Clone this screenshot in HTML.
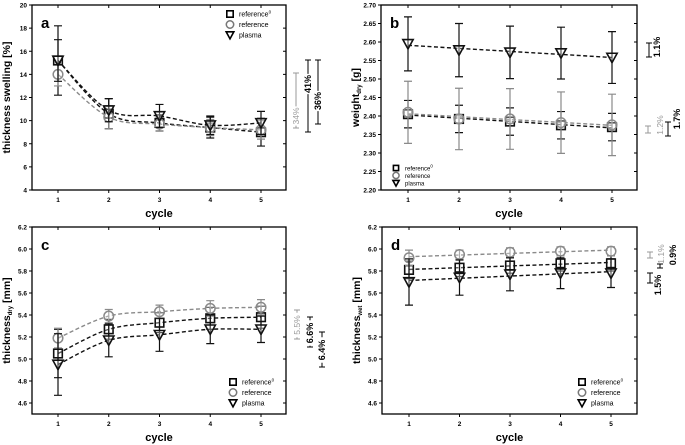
<!DOCTYPE html>
<html><head><meta charset="utf-8"><style>
html,body{margin:0;padding:0;background:#fff;}
svg{display:block;font-family:"Liberation Sans",Arial,sans-serif;}
text{font-weight:bold;}
</style></head><body>
<svg id="chart" width="685" height="445" viewBox="0 0 685 445"></svg>
<script>
const cycles = [1,2,3,4,5];
// panel a
const aRef0 = [15.2,10.6,9.8,9.4,9.0];
const aRef0Err = [3.0,1.3,0.7,0.9,1.2];
const aRef = [14.0,10.3,9.7,9.4,9.2];
const aRefErr = [1.0,1.0,0.6,0.7,0.8];
const aPla = [15.2,10.9,10.4,9.6,9.8];
const aPlaErr = [1.8,1.0,1.0,0.8,1.0];
const aTicks = [4,6,8,10,12,14,16,18,20];
// panel b
const bRef0 = [2.405,2.392,2.385,2.375,2.370];
const bRef0Err = [0.037,0.037,0.037,0.037,0.037];
const bRef = [2.410,2.392,2.392,2.382,2.376];
const bRefErr = [0.084,0.083,0.082,0.083,0.083];
const bPla = [2.595,2.578,2.572,2.570,2.558];
const bPlaErr = [0.073,0.072,0.071,0.07,0.07];
const bTicks = [2.20,2.25,2.30,2.35,2.40,2.45,2.50,2.55,2.60,2.65,2.70];
// panel c
const cRef0 = [5.05,5.27,5.33,5.37,5.38];
const cRef0Err = [0.22,0.09,0.09,0.1,0.1];
const cRef = [5.19,5.39,5.43,5.46,5.47];
const cRefErr = [0.09,0.06,0.06,0.07,0.07];
const cPla = [4.95,5.17,5.22,5.27,5.27];
const cPlaErr = [0.28,0.15,0.15,0.13,0.12];
const cdTicks = [4.6,4.8,5.0,5.2,5.4,5.6,5.8,6.0,6.2];
// panel d
const dRef0 = [5.81,5.83,5.85,5.87,5.87];
const dRef0Err = [0.08,0.08,0.07,0.07,0.07];
const dRef = [5.92,5.95,5.97,5.98,5.98];
const dRefErr = [0.07,0.04,0.04,0.04,0.04];
const dPla = [5.70,5.74,5.77,5.78,5.78];
const dPlaErr = [0.21,0.16,0.15,0.14,0.13];

const NS="http://www.w3.org/2000/svg";
const svg=document.getElementById('chart');
function el(tag,attrs,parent,txt){const e=document.createElementNS(NS,tag);for(const k in attrs)e.setAttribute(k,attrs[k]);if(txt!==undefined)e.textContent=txt;(parent||svg).appendChild(e);return e;}

function marker(p,shape,x,y,color,r){
  r=r||4.3;
  if(shape==='square')return el('rect',{x:x-r,y:y-r,width:2*r,height:2*r,fill:'#fff','fill-opacity':0.3,stroke:color,'stroke-width':1.6},p);
  if(shape==='circle')return el('circle',{cx:x,cy:y,r:r+0.5,fill:'#fff','fill-opacity':0.3,stroke:color,'stroke-width':1.5},p);
  return el('path',{d:`M${x-r*1.2},${y-r}L${x+r*1.2},${y-r}L${x},${y+r*1.2}Z`,fill:'#fff','fill-opacity':0.3,stroke:color,'stroke-width':1.6},p);
}

function panel(cfg){
  const g=el('g',{});
  
  
  const X=v=>cfg.x1+(v-1)*(cfg.x5-cfg.x1)/4;
  const Y=v=>cfg.yb+(v-cfg.ymin)*(cfg.yt-cfg.yb)/(cfg.ymax-cfg.ymin);
  const frame=el('rect',{x:cfg.L,y:cfg.T,width:cfg.R-cfg.L,height:cfg.B-cfg.T,fill:'none',stroke:'#000','stroke-width':1.3},g);
  
  
  cfg.ticks.forEach(t=>{
    const y=Y(t);
    el('line',{x1:cfg.L,x2:cfg.L-3,y1:y,y2:y,stroke:'#000'},g);
    el('line',{x1:cfg.R,x2:cfg.R-3,y1:y,y2:y,stroke:'#000'},g);
    const tl=el('text',{x:cfg.L-5,y:y+2.5,'font-size':6.5,'text-anchor':'end'},g,t.toFixed(cfg.dec));
    
    
  });
  cycles.forEach(c=>{
    const x=X(c);
    el('line',{x1:x,x2:x,y1:cfg.B,y2:cfg.B+3,stroke:'#000'},g);
    el('line',{x1:x,x2:x,y1:cfg.T,y2:cfg.T+3,stroke:'#000'},g);
    const tl=el('text',{x:x,y:cfg.B+12,'font-size':6.5,'text-anchor':'middle'},g,c);
    
    
  });
  const xt=el('text',{x:(cfg.L+cfg.R)/2,y:cfg.B+27,'font-size':11,'text-anchor':'middle'},g,'cycle');
  
  
  const yt=el('text',{x:0,y:0,'font-size':10.5,'text-anchor':'middle',transform:`translate(${cfg.L-22},${(cfg.T+cfg.B)/2}) rotate(-90)`},g);
  
  
  el('tspan',{},yt,cfg.ytitle[0]);
  if(cfg.ytitle[1]){el('tspan',{'font-size':6,dy:2},yt,cfg.ytitle[1]);el('tspan',{dy:-2},yt,cfg.ytitle[2]);}
  const lt=el('text',{x:cfg.L+9,y:cfg.T+23,'font-size':15},g,cfg.letter);
  
  
  cfg.series.forEach(s=>{
    const sg=el('g',{},g);
    
    
    const pts=s.vals.map((v,i)=>[X(cycles[i]),Y(v)]);
    let d='M'+pts[0][0]+','+pts[0][1];
    if(cfg.curve){
      for(let i=0;i<pts.length-1;i++){
        const p0=pts[Math.max(i-1,0)],p1=pts[i],p2=pts[i+1],p3=pts[Math.min(i+2,pts.length-1)];
        const c1=[p1[0]+(p2[0]-p0[0])/6,p1[1]+(p2[1]-p0[1])/6];
        const c2=[p2[0]-(p3[0]-p1[0])/6,p2[1]-(p3[1]-p1[1])/6];
        d+=`C${c1[0]},${c1[1]} ${c2[0]},${c2[1]} ${p2[0]},${p2[1]}`;
      }
    } else {
      const n=5,mx=3,my=s.vals.reduce((a,b)=>a+b)/n;
      let num=0,den=0;cycles.forEach((c,i)=>{num+=(c-mx)*(s.vals[i]-my);den+=(c-mx)*(c-mx);});
      const sl=num/den;
      d=`M${X(1)},${Y(my+sl*(1-mx))}L${X(5)},${Y(my+sl*(5-mx))}`;
    }
    const ln=el('path',{d:d,fill:'none',stroke:s.color,'stroke-width':1.4,'stroke-dasharray':'4,2.5'},sg);
    
    
    s.vals.forEach((v,i)=>{
      const x=X(cycles[i]),e=s.err[i];
      const eb=el('path',{d:`M${x},${Y(v-e)}V${Y(v+e)}M${x-4},${Y(v-e)}h8M${x-4},${Y(v+e)}h8`,stroke:s.color,'stroke-width':1.2,fill:'none'},sg);
      
      
      const m=marker(sg,s.shape,x,Y(v),s.color);
      
      
    });
  });
  const lg=el('g',{},g);
  
  
  const gap=cfg.legGap||10.5, fs=cfg.legFs||7, mr=cfg.legR||3.2;
  cfg.series.forEach((s,i)=>{
    const ly=cfg.legY+i*gap;
    marker(lg,s.shape,cfg.legX,ly,s.shape==='circle'?'#777':'#000',mr);
    const t=el('text',{x:cfg.legX+9,y:ly+2.5,'font-size':fs,style:'font-weight:normal'},lg,s.label);
    
    
    if(s.sup){el('tspan',{'font-size':4.5,dy:-3},t,'0');}
  });
}
function mkSeries(r0,r0e,r,re,pl,ple){
  return [
    {name:'reference0',label:'reference',sup:true,vals:r0,err:r0e,shape:'square',color:'#111'},
    {name:'reference',label:'reference',vals:r,err:re,shape:'circle',color:'#8a8a8a'},
    {name:'plasma',label:'plasma',vals:pl,err:ple,shape:'tri',color:'#111'}
  ];
}
panel({letter:'a',L:32,R:286,T:5,B:190,x1:58,x5:261,yt:5,yb:190,ymin:4,ymax:20,ticks:aTicks,dec:0,curve:true,
  ytitle:['thickness swelling [%]'],legX:230,legY:14,series:mkSeries(aRef0,aRef0Err,aRef,aRefErr,aPla,aPlaErr)});
panel({letter:'b',L:381,R:637,T:5,B:190,x1:408,x5:612,yt:5,yb:190,ymin:2.20,ymax:2.70,ticks:bTicks,dec:2,curve:false,
  ytitle:['weight','dry',' [g]'],legX:396,legY:168,legGap:7.5,legFs:6,legR:2.6,series:mkSeries(bRef0,bRef0Err,bRef,bRefErr,bPla,bPlaErr)});
panel({letter:'c',L:32,R:286,T:227,B:414,x1:58,x5:261,yt:227,yb:403,ymin:4.6,ymax:6.2,ticks:cdTicks,dec:1,curve:true,
  ytitle:['thickness','dry',' [mm]'],legX:233,legY:382,series:mkSeries(cRef0,cRef0Err,cRef,cRefErr,cPla,cPlaErr)});
panel({letter:'d',L:382,R:637,T:227,B:414,x1:409,x5:611,yt:227,yb:403,ymin:4.6,ymax:6.2,ticks:cdTicks,dec:1,curve:false,
  ytitle:['thickness','wet',' [mm]'],legX:582,legY:382,series:mkSeries(dRef0,dRef0Err,dRef,dRefErr,dPla,dPlaErr)});

function ann(x,y1,y2,label,tx,ty,color,inline){
  const g=el('g',{});
  
  
  const size=color==='#000'?9:8.5;
  const half=label.length*size*0.3+2;
  let d=`M${x-3},${y1}h6M${x-3},${y2}h6`;
  if(inline){
    if(ty-half>y1)d+=`M${x},${y1}V${ty-half}`;
    if(ty+half<y2)d+=`M${x},${ty+half}V${y2}`;
  } else d+=`M${x},${y1}V${y2}`;
  el('path',{d:d,stroke:color,'stroke-width':1,fill:'none'},g);
  el('text',{x:0,y:0,'font-size':size,fill:color,'text-anchor':'middle',transform:`translate(${tx+3.2},${ty}) rotate(-90)`,style:color==='#000'?'':'font-weight:normal'},g,label);
}
ann(296,73,128,'34%',296,116,'#999',true);
ann(308,60,132,'41%',308,84,'#000',true);
ann(318,60,124,'36%',318,101,'#000',true);
ann(649,43,57,'1.1%',657,47,'#000',false);
ann(648,126,133,'1.2%',660,125,'#999',false);
ann(668,122,136,'1.7%',677,119,'#000',false);
ann(297,310,339,'5.5%',297,325,'#999',true);
ann(310,317,347,'6.6%',310,333,'#000',true);
ann(322,332,367,'6.4%',322,350,'#000',true);
ann(650,252,258,'1.1%',661,254,'#999',false);
ann(650,273,283,'1.5%',658,285,'#000',false);
ann(660,264,268,'0.9%',673,255,'#000',false);
</script>
</body></html>
